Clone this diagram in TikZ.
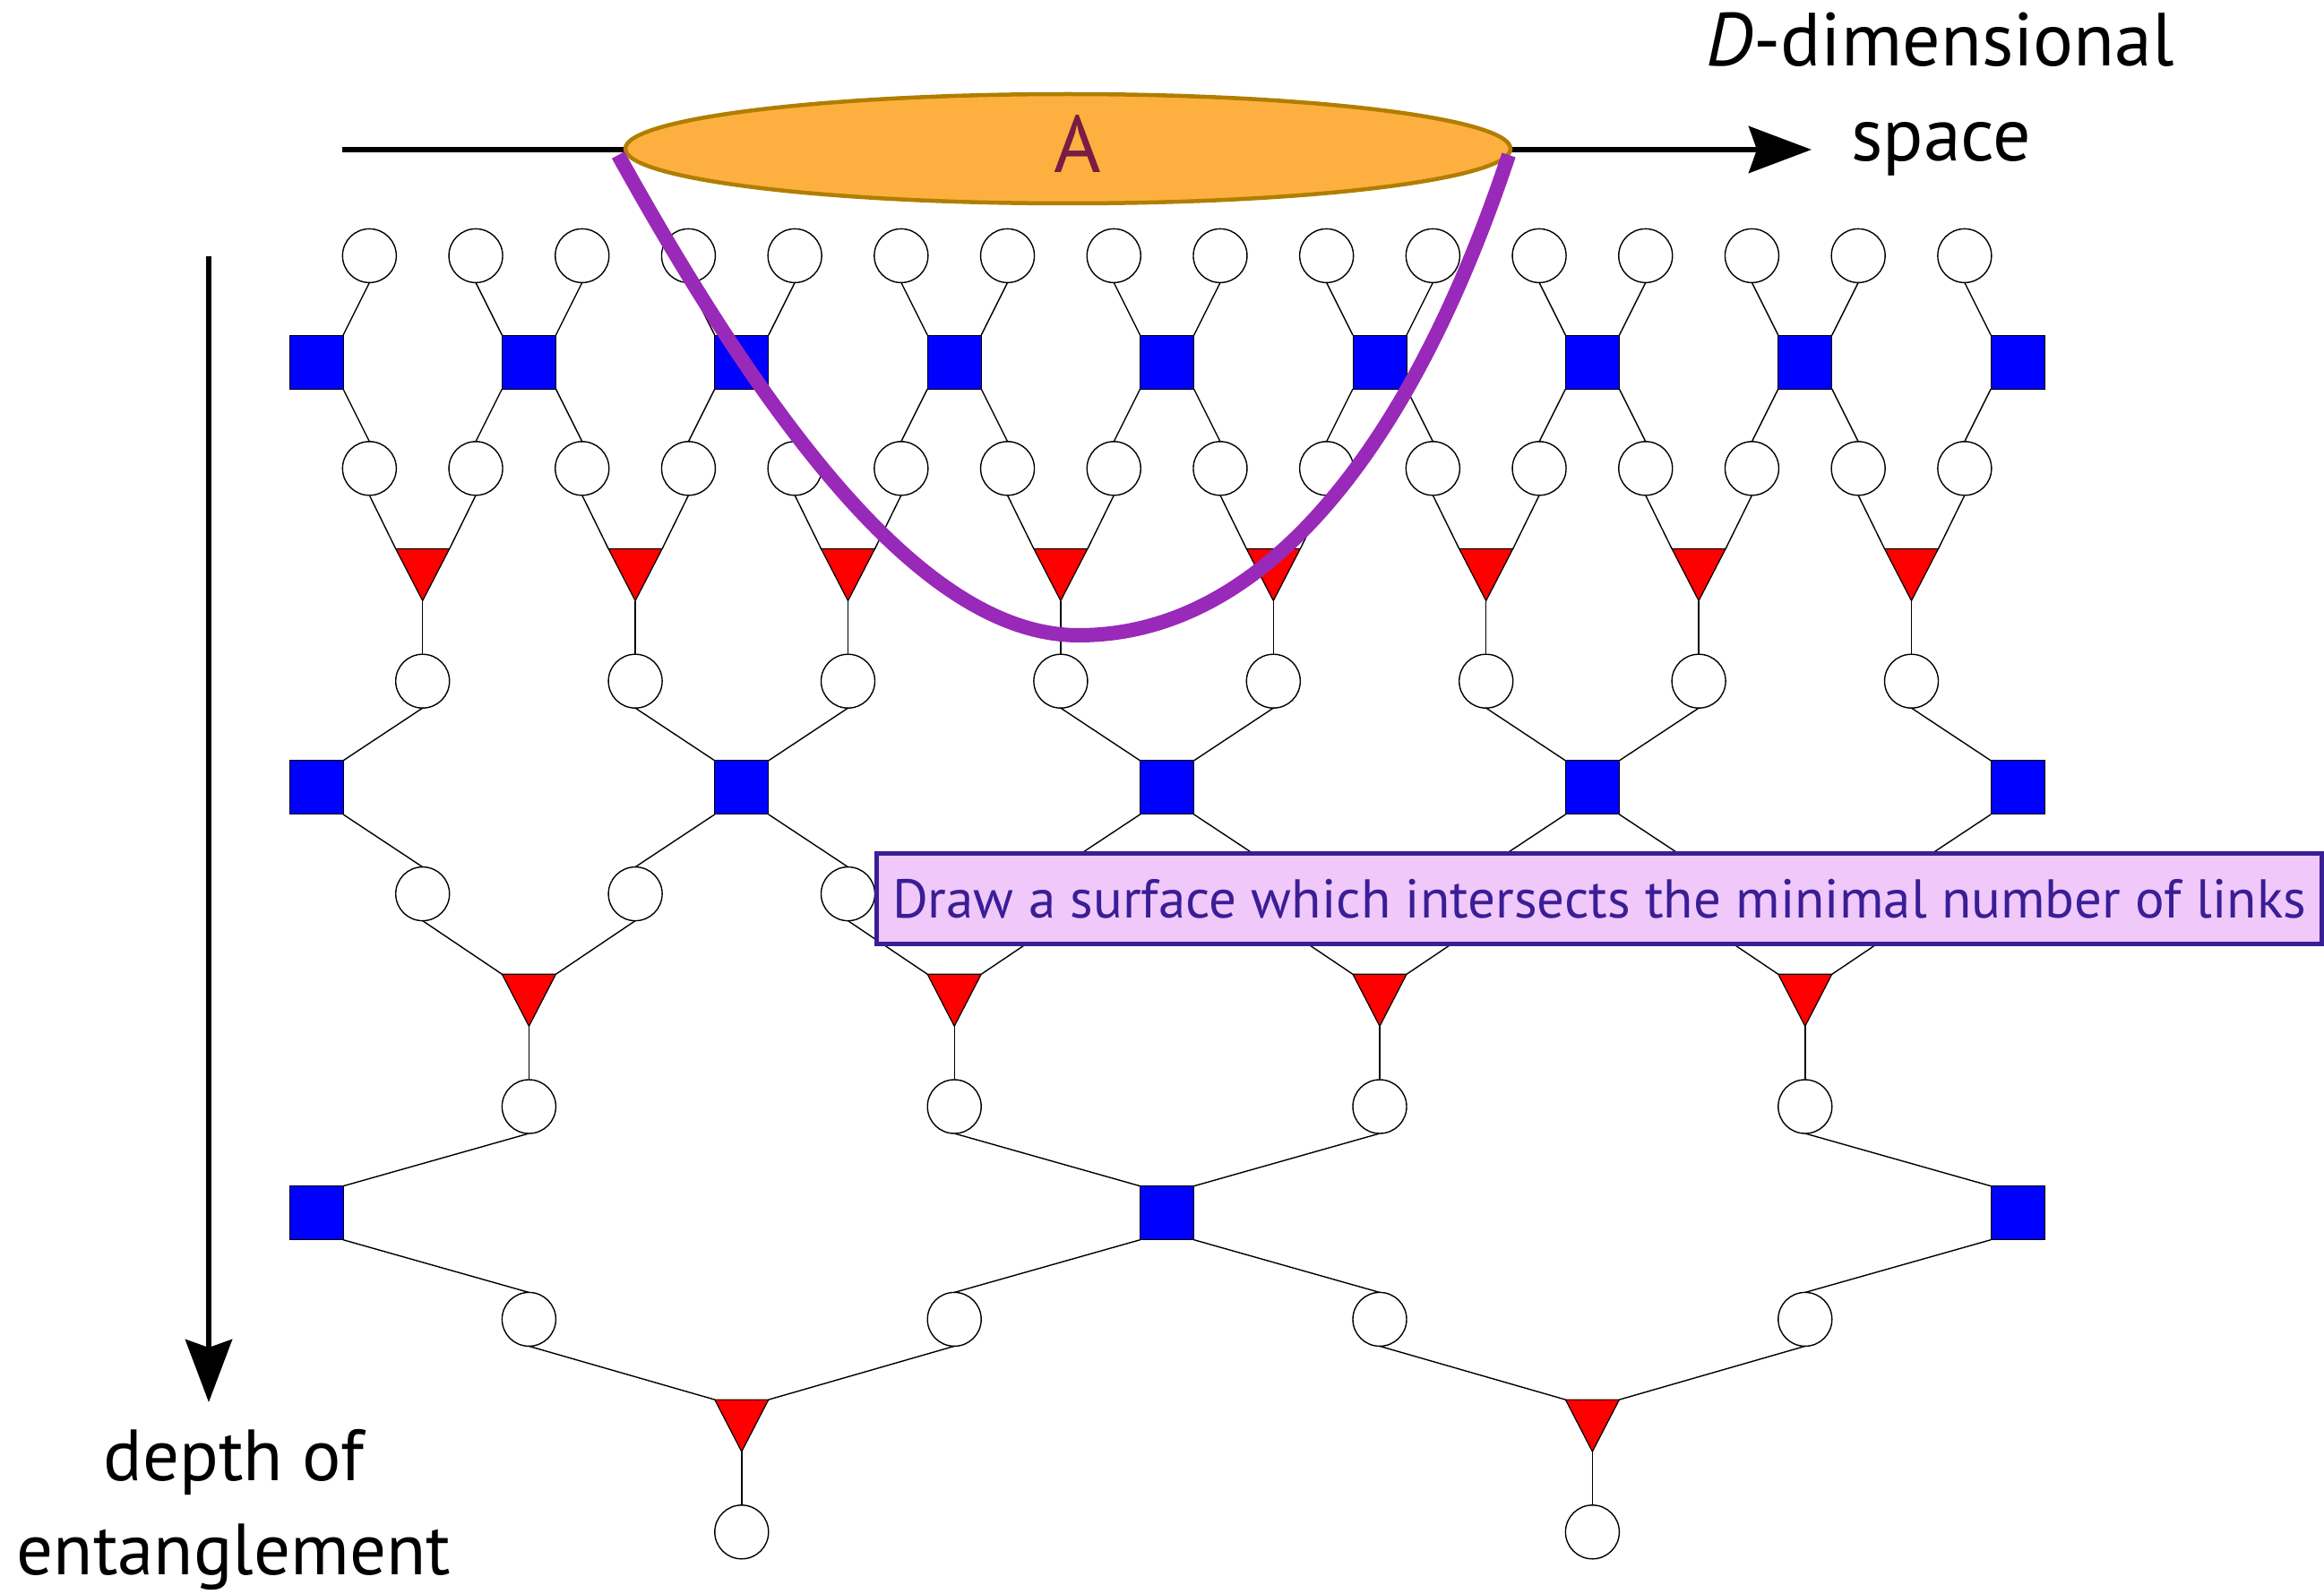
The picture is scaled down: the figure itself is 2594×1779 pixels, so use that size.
\documentclass[tikz,border=0pt]{standalone}
\usepackage{fontspec}
\setmainfont{PT Sans}
\usetikzlibrary{arrows.meta,shapes.geometric}

\definecolor{unitaryblue}{RGB}{0,0,255}
\definecolor{isored}{RGB}{255,0,0}
\definecolor{regionfill}{RGB}{253,176,64}
\definecolor{regionedge}{RGB}{176,126,0}
\definecolor{regiontext}{RGB}{122,28,68}
\definecolor{cutpurple}{RGB}{153,41,185}
\definecolor{notefill}{RGB}{240,200,250}
\definecolor{noteink}{RGB}{58,30,150}

% one coarse-graining layer: circles -> disentanglers -> circles -> isometries -> circles
\newcommand\coarsegrain[6]{%
  \foreach \m [evaluate=\m as \a using {int(2*\m)},
               evaluate=\m as \b using {int(2*\m+1)},
               evaluate=\m as \nx using {int(\m+1)}] in {0,...,#6} {
    \draw[bond] (#1-\a.south) -- (#2-\m.north east);
    \draw[bond] (#1-\b.south) -- (#2-\nx.north west);
    \draw[bond] (#2-\m.south east) -- (#3-\a.north);
    \draw[bond] (#2-\nx.south west) -- (#3-\b.north);
    \draw[bond] (#3-\a.south) -- (#4-\m.north west);
    \draw[bond] (#3-\b.south) -- (#4-\m.north east);
    \draw[bond] (#4-\m.south) -- (#5-\m.north);
    \filldraw[isofill] (#4-\m.north west) -- (#4-\m.north east) -- (#4-\m.south) -- cycle;
  }%
}

\begin{document}
\begin{tikzpicture}[x=1pt,y=-1pt,
  site/.style={circle, draw=black, fill=white, line width=1.4pt,
    minimum size=60pt, inner sep=0pt, outer sep=0pt},
  unitary/.style={rectangle, draw=black, fill=unitaryblue, line width=1pt,
    minimum size=60pt, inner sep=0pt, outer sep=0pt},
  isoslot/.style={rectangle, minimum width=60pt, minimum height=58pt,
    inner sep=0pt, outer sep=0pt},
  isofill/.style={fill=isored, draw=black, line width=1.2pt, line join=round},
  bond/.style={line width=1.4pt, black},
  axis/.style={line width=6pt, -{Stealth[length=70pt,width=52pt,inset=9pt]}},
  bigtext/.style={font=\fontsize{84}{100}\selectfont},
  sidetext/.style={font=\fontsize{81}{100}\selectfont},
]
\useasboundingbox (0,0) rectangle (2594,1779);

% ---- tensor network ----
\begin{scope}[shift={(353,285.4)}, x=118.7pt, y=-118.7pt]
  \foreach \j in {0,...,15} {
    \node[site] (c0-\j) at (\j+0.5,0) {};
    \node[site] (c2-\j) at (\j+0.5,2) {};
  }
  \foreach \k in {0,...,8} \node[unitary] (s1-\k) at (2*\k,1) {};
  \foreach \k in {0,...,7} {
    \node[isoslot] (t3-\k) at (2*\k+1,3) {};
    \node[site] (c4-\k) at (2*\k+1,4) {};
    \node[site] (c6-\k) at (2*\k+1,6) {};
  }
  \foreach \k in {0,...,4} \node[unitary] (s5-\k) at (4*\k,5) {};
  \foreach \k in {0,...,3} {
    \node[isoslot] (t7-\k) at (4*\k+2,7) {};
    \node[site] (c8-\k) at (4*\k+2,8) {};
    \node[site] (c10-\k) at (4*\k+2,10) {};
  }
  \foreach \k in {0,...,2} \node[unitary] (s9-\k) at (8*\k,9) {};
  \foreach \k in {0,...,1} {
    \node[isoslot] (t11-\k) at (8*\k+4,11) {};
    \node[site] (c12-\k) at (8*\k+4,12) {};
  }

  \coarsegrain{c0}{s1}{c2}{t3}{c4}{7}
  \coarsegrain{c4}{s5}{c6}{t7}{c8}{3}
  \coarsegrain{c8}{s9}{c10}{t11}{c12}{1}
\end{scope}

% ---- axes ----
\coordinate (xstart) at (382,167);
\coordinate (xend) at (2022,167);
\draw[axis] (xstart) -- (xend);
\coordinate (zstart) at (233,286);
\coordinate (zend) at (233,1565);
\draw[axis] (zstart) -- (zend);

% ---- region A ----
\node[ellipse, draw=regionedge, fill=regionfill, line width=4.5pt,
  minimum width=988pt, minimum height=122pt, inner sep=0pt] (regionA) at (1192,166) {};
\node[text=regiontext, font=\fontsize{90}{100}\selectfont, inner sep=0pt] (labelA) at (1203,161) {A};

% ---- minimal cut through the network ----
\coordinate (cutL) at (690,173);
\coordinate (cutB) at (1204,709);
\coordinate (cutR) at (1684,173);
\draw[cutpurple, line width=16pt]
  (cutL) .. controls (890,534) and (1054,709) .. (cutB)
  .. controls (1424,709) and (1584,474) .. (cutR);

% ---- labels ----
\node[bigtext, anchor=base, inner sep=0pt] (dimlabel) at (2166,74) {\textit{D}-dimensional};
\node[bigtext, anchor=base, inner sep=0pt] (spacelabel) at (2167,180) {space};
\node[sidetext, anchor=base, inner sep=0pt] (depthlabel) at (261,1652) {depth of};
\node[sidetext, anchor=base, inner sep=0pt] (entlabel) at (261,1757) {entanglement};

\node[draw=noteink, fill=notefill, text=noteink, line width=5pt,
  minimum width=1613pt, minimum height=101pt, inner sep=0pt,
  font=\fontsize{61}{72}\selectfont] (hint) at (1785,1003)
  {Draw a surface which intersects the minimal number of links};
\end{tikzpicture}
\end{document}
